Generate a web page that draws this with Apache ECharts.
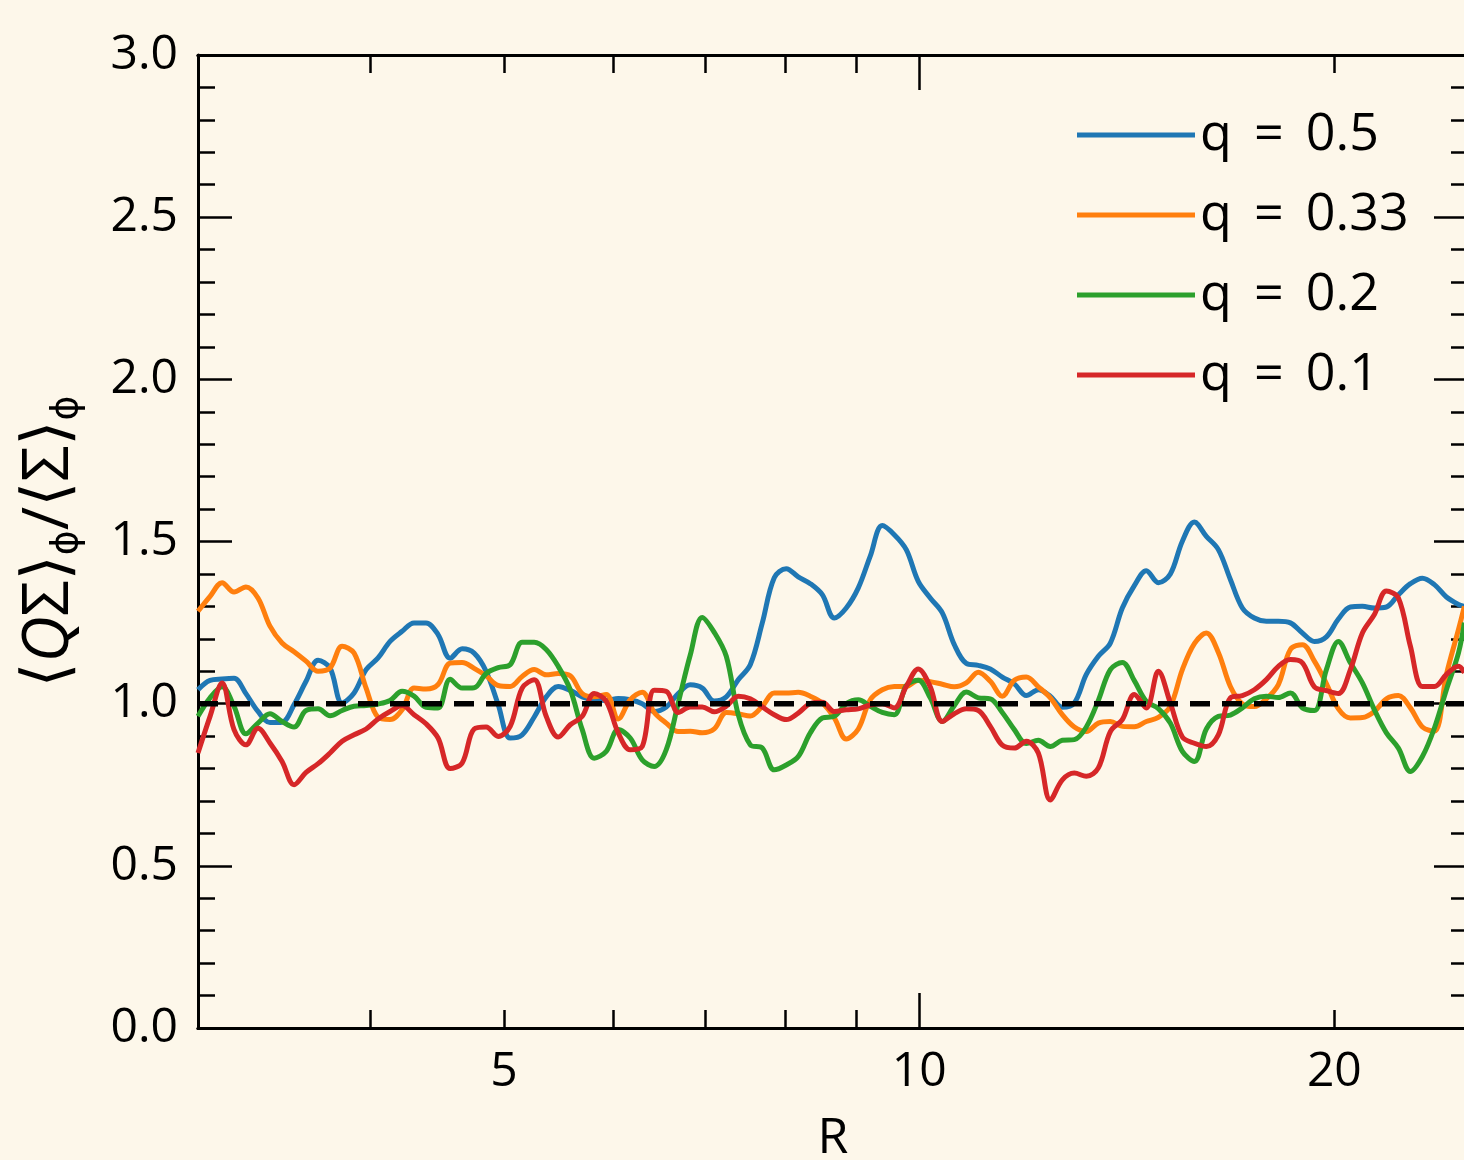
<!DOCTYPE html>
<html>
<head>
<meta charset="utf-8">
<script src="https://cdn.jsdelivr.net/npm/echarts@6/dist/echarts.min.js"></script>
<style>
  html, body { margin: 0; padding: 0; background: #fdf7ea; }
  #chart { width: 1464px; height: 1160px; }
</style>
</head>
<body>
<div id="chart"></div>
<script>
// radius samples (log-spaced)
const radius = [
  3.000, 3.061, 3.123, 3.186, 3.250, 3.316, 3.383, 3.452, 3.522, 3.593,
  3.666, 3.740, 3.816, 3.893, 3.972, 4.052, 4.134, 4.218, 4.303, 4.390,
  4.479, 4.570, 4.663, 4.757, 4.853, 4.952, 5.052, 5.154, 5.259, 5.365,
  5.474, 5.585, 5.698, 5.813, 5.931, 6.051, 6.173, 6.298, 6.426, 6.556,
  6.688, 6.824, 6.962, 7.103, 7.247, 7.393, 7.543, 7.696, 7.851, 8.010,
  8.172, 8.338, 8.507, 8.679, 8.854, 9.034, 9.216, 9.403, 9.593, 9.787,
  9.985, 10.187, 10.394, 10.604, 10.819, 11.038, 11.261, 11.489, 11.722, 11.959,
  12.201, 12.448, 12.700, 12.957, 13.219, 13.487, 13.760, 14.038, 14.322, 14.612,
  14.908, 15.210, 15.518, 15.832, 16.152, 16.479, 16.813, 17.153, 17.500, 17.854,
  18.216, 18.585, 18.961, 19.345, 19.736, 20.136, 20.543, 20.959, 21.383, 21.816,
  22.258, 22.708, 23.168, 23.637, 24.115, 24.604, 24.85
];

// q = 0.5
const qHalf = [
  1.043, 1.072, 1.076, 1.078, 1.031, 0.976, 0.942, 0.943, 0.997, 1.069,
  1.134, 1.110, 1.002, 1.033, 1.105, 1.141, 1.192, 1.223, 1.249, 1.249,
  1.213, 1.140, 1.169, 1.156, 1.100, 0.997, 0.894, 0.904, 0.959, 1.021,
  1.053, 1.041, 1.021, 1.012, 1.010, 1.016, 1.012, 1.000, 0.976, 0.990,
  1.031, 1.058, 1.048, 1.008, 1.021, 1.074, 1.120, 1.249, 1.388, 1.416,
  1.391, 1.370, 1.336, 1.264, 1.295, 1.357, 1.455, 1.549, 1.521, 1.475,
  1.377, 1.326, 1.280, 1.182, 1.124, 1.118, 1.107, 1.082, 1.061, 1.025,
  1.043, 1.023, 0.989, 1.002, 1.090, 1.146, 1.187, 1.295, 1.364, 1.410,
  1.373, 1.400, 1.501, 1.560, 1.516, 1.475, 1.383, 1.295, 1.264, 1.254,
  1.254, 1.249, 1.218, 1.192, 1.206, 1.261, 1.298, 1.300, 1.295, 1.298,
  1.336, 1.370, 1.387, 1.367, 1.329, 1.306, 1.300
];

// q = 0.33
const qThird = [
  1.285, 1.331, 1.373, 1.344, 1.360, 1.326, 1.239, 1.187, 1.160, 1.131,
  1.100, 1.110, 1.177, 1.156, 1.048, 0.958, 0.951, 0.981, 1.048, 1.045,
  1.059, 1.125, 1.127, 1.109, 1.086, 1.056, 1.053, 1.084, 1.105, 1.089,
  1.093, 1.086, 1.031, 1.021, 1.028, 0.953, 1.012, 1.035, 0.973, 0.940,
  0.914, 0.915, 0.910, 0.922, 0.973, 0.969, 0.962, 0.992, 1.033, 1.033,
  1.035, 1.023, 1.002, 0.956, 0.891, 0.922, 1.012, 1.043, 1.053, 1.053,
  1.072, 1.068, 1.060, 1.052, 1.064, 1.097, 1.069, 1.023, 1.072, 1.082,
  1.052, 1.018, 0.966, 0.928, 0.914, 0.940, 0.945, 0.930, 0.929, 0.945,
  0.958, 0.992, 1.105, 1.185, 1.218, 1.158, 1.053, 0.999, 0.991, 1.015,
  1.059, 1.167, 1.182, 1.131, 1.062, 0.984, 0.956, 0.957, 0.976, 1.015,
  1.025, 0.987, 0.928, 0.915, 1.090, 1.228, 1.300
];

// q = 0.2
const qFifth = [
  0.961, 1.018, 1.052, 0.992, 0.907, 0.940, 0.969, 0.945, 0.928, 0.979,
  0.984, 0.963, 0.979, 0.992, 0.994, 0.999, 1.010, 1.038, 1.023, 0.989,
  0.987, 1.075, 1.048, 1.049, 1.093, 1.111, 1.120, 1.189, 1.189, 1.167,
  1.115, 1.043, 0.920, 0.832, 0.853, 0.920, 0.894, 0.827, 0.806, 0.858,
  1.002, 1.150, 1.266, 1.220, 1.146, 0.966, 0.873, 0.863, 0.796, 0.811,
  0.837, 0.910, 0.956, 0.961, 1.000, 1.012, 0.992, 0.973, 0.966, 1.056,
  1.072, 1.018, 0.945, 0.994, 1.036, 1.018, 1.015, 0.973, 0.920, 0.877,
  0.887, 0.868, 0.887, 0.889, 0.928, 1.010, 1.105, 1.127, 1.071, 1.007,
  0.985, 0.940, 0.853, 0.822, 0.922, 0.961, 0.965, 0.987, 1.015, 1.023,
  1.019, 1.033, 0.987, 0.979, 1.105, 1.192, 1.126, 1.064, 0.981, 0.910,
  0.863, 0.791, 0.837, 0.925, 1.043, 1.156, 1.250
];

// q = 0.1
const qTenth = [
  0.848, 0.961, 1.064, 0.920, 0.873, 0.924, 0.879, 0.822, 0.750, 0.788,
  0.815, 0.848, 0.884, 0.904, 0.922, 0.953, 0.976, 0.994, 0.966, 0.938,
  0.894, 0.800, 0.817, 0.922, 0.928, 0.899, 0.930, 1.048, 1.074, 0.961,
  0.897, 0.935, 0.961, 1.031, 1.007, 0.910, 0.858, 0.868, 1.041, 1.038,
  0.973, 0.990, 0.990, 0.975, 0.992, 1.023, 1.015, 0.990, 0.966, 0.951,
  0.971, 1.000, 1.004, 0.976, 0.981, 0.984, 0.996, 1.000, 0.987, 1.053,
  1.107, 1.052, 0.945, 0.969, 0.984, 0.979, 0.930, 0.872, 0.863, 0.884,
  0.848, 0.703, 0.765, 0.786, 0.776, 0.802, 0.914, 0.951, 1.028, 0.987,
  1.100, 1.002, 0.897, 0.878, 0.868, 0.904, 1.018, 1.025, 1.043, 1.074,
  1.115, 1.136, 1.126, 1.052, 1.040, 1.031, 1.105, 1.218, 1.275, 1.347,
  1.326, 1.177, 1.053, 1.053, 1.090, 1.115, 1.095
];

const seriesNames = ['q \u2009=\u2009 0.5', 'q \u2009=\u2009 0.33', 'q \u2009=\u2009 0.2', 'q \u2009=\u2009 0.1'];
const seriesColors = ['#1f77b4', '#ff7f0e', '#2ca02c', '#d62728'];

const xRange = [3, 25];
const xMinorTicks = [4, 5, 6, 7, 8, 9, 20];
const xMajorTicks = [10];
const xTickLabels = [5, 10, 20];
const yRange = [0, 3];
const refLevel = 1.0;

const FONT = '"Open Sans", "DejaVu Sans", sans-serif';
const MATH = '"DejaVu Sans", sans-serif';
const INK = '#000';

const chart = echarts.init(document.getElementById('chart'));

// one x axis per tick length and side (matplotlib style, ticks inside)
function xAxisFor(position, ticks, len, labels) {
  return {
    type: 'log',
    logBase: 10,
    min: xRange[0],
    max: xRange[1],
    position: position,
    name: labels ? 'R' : '',
    nameLocation: 'middle',
    nameGap: 86,
    nameTextStyle: { fontFamily: FONT, fontSize: 50, color: INK },
    axisLine: { show: true, onZero: false, lineStyle: { color: INK, width: 3 } },
    axisTick: { show: true, inside: true, length: len, customValues: ticks, lineStyle: { color: INK, width: 2.5 } },
    minorTick: { show: false },
    axisLabel: labels
      ? { show: true, customValues: xTickLabels, fontFamily: FONT, fontSize: 48, color: INK, margin: 20,
          formatter: (v) => String(Math.round(v)) }
      : { show: false },
    splitLine: { show: false },
  };
}

function yAxisFor(position, labels) {
  return {
    type: 'value',
    min: yRange[0],
    max: yRange[1],
    interval: 0.5,
    position: position,
    name: labels ? '{b|\u27E8}{i|Q}{t|\u03A3}{b|\u27E9}{s|\u03D5}{t|/}{b|\u27E8}{t|\u03A3}{b|\u27E9}{s|\u03D5}' : '',
    nameLocation: 'middle',
    nameRotate: 90,
    nameGap: 112,
    nameTextStyle: {
      color: INK,
      rich: {
        t: { fontFamily: FONT, fontSize: 64, color: INK },
        i: { fontFamily: FONT, fontSize: 64, fontStyle: 'italic', color: INK },
        b: { fontFamily: MATH, fontSize: 64, color: INK },
        s: { fontFamily: MATH, fontSize: 38, color: INK, padding: [34, 0, 0, 0] },
      },
    },
    axisLine: { show: true, onZero: false, lineStyle: { color: INK, width: 3 } },
    axisTick: { show: true, inside: true, length: 34, lineStyle: { color: INK, width: 2.5 } },
    minorTick: { show: true, splitNumber: 5, length: 17, lineStyle: { color: INK, width: 2.5 } },
    axisLabel: labels
      ? { show: true, fontFamily: FONT, fontSize: 48, color: INK, margin: 20, formatter: (v) => v.toFixed(1) }
      : { show: false },
    splitLine: { show: false },
    minorSplitLine: { show: false },
  };
}

const curves = [qHalf, qThird, qFifth, qTenth].map((vals, idx) => ({
  name: seriesNames[idx],
  type: 'line',
  xAxisIndex: 0,
  yAxisIndex: 0,
  data: radius.map((r, i) => [r, vals[i]]),
  smooth: 0.35,
  showSymbol: false,
  lineStyle: { color: seriesColors[idx], width: 5 },
  itemStyle: { color: seriesColors[idx] },
  z: 3 + idx,
}));

const option = {
  backgroundColor: '#fdf7ea',
  animation: false,
  grid: { left: 198, top: 55, width: 1270, height: 973, containLabel: false, outerBoundsMode: 'none' },
  legend: {
    data: seriesNames,
    orient: 'vertical',
    left: 1072,
    top: 102,
    icon: 'rect',
    itemWidth: 118,
    itemHeight: 5,
    itemGap: 24,
    textStyle: { fontFamily: FONT, fontSize: 52, color: INK, lineHeight: 56 },
  },
  xAxis: [
    xAxisFor('bottom', xMinorTicks, 18, true),
    xAxisFor('bottom', xMajorTicks, 35, false),
    xAxisFor('top', xMinorTicks, 18, false),
    xAxisFor('top', xMajorTicks, 35, false),
  ],
  yAxis: [yAxisFor('left', true), yAxisFor('right', false)],
  series: curves.concat([{
    name: 'ref',
    type: 'line',
    xAxisIndex: 0,
    yAxisIndex: 0,
    data: [[xRange[0], refLevel], [xRange[1], refLevel]],
    showSymbol: false,
    lineStyle: { color: INK, width: 5.5, type: [20, 12] },
    z: 10,
  }]),
};

chart.setOption(option);
</script>
</body>
</html>
